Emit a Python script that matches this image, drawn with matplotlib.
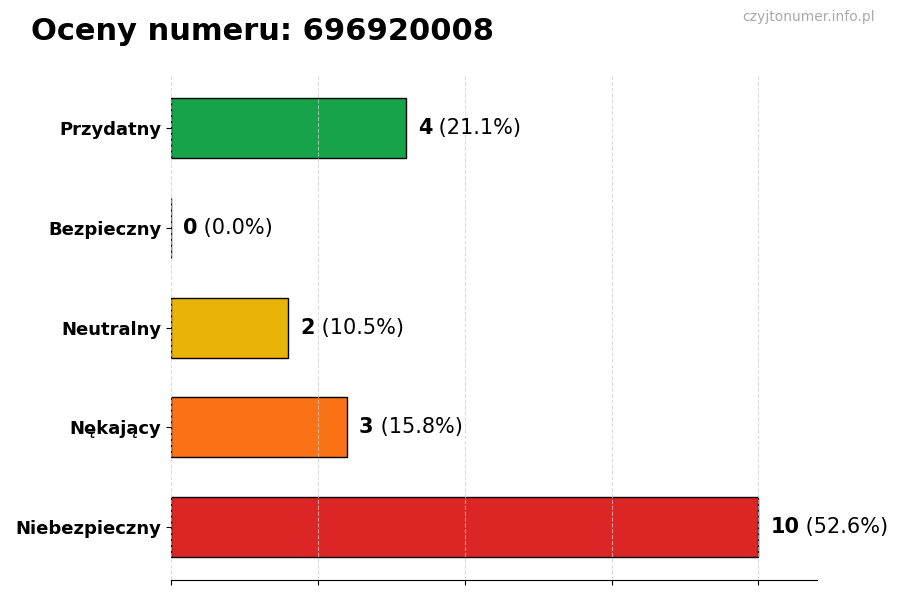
import matplotlib
matplotlib.use("Agg")
import matplotlib.pyplot as plt

categories = ["Przydatny", "Bezpieczny", "Neutralny", "Nękający", "Niebezpieczny"]
counts = [4, 0, 2, 3, 10]
percents = [21.1, 0.0, 10.5, 15.8, 52.6]
colors = ["#16a34a", "#9ca3af", "#eab308", "#f97316", "#dc2626"]

fig = plt.figure(figsize=(9, 6), dpi=100)
ax = fig.add_axes([0.19, 0.033, 0.718, 0.842])

ypos = list(range(len(categories)))
ax.barh(ypos, counts, height=0.6, color=colors, edgecolor="black", linewidth=1, zorder=2)
ax.set_yticks(ypos)
ax.set_yticklabels(categories, fontsize=13, fontweight="bold")
ax.invert_yaxis()
ax.set_xlim(0, 11)
ax.set_xticks([0, 2.5, 5, 7.5, 10])
ax.set_xticklabels([])
ax.grid(axis="x", linestyle="--", color="#cccccc", alpha=0.7, zorder=3)
ax.set_axisbelow(False)
for s in ["top", "right", "left"]:
    ax.spines[s].set_visible(False)

for y, c, p in zip(ypos, counts, percents):
    t = ax.annotate(f"{c}", xy=(c, y), xytext=(8.5, 0), textcoords="offset points",
                    va="center", ha="left", fontsize=15, fontweight="bold")
    ax.annotate(f" ({p:.1f}%)", xycoords=t, xy=(1, 0.5), va="center", ha="left", fontsize=15)

fig.text(0.034, 0.948, "Oceny numeru: 696920008", fontsize=22, fontweight="bold", va="center", ha="left")
fig.text(0.972, 0.971, "czyjtonumer.info.pl", fontsize=10, color="#aaaaaa", va="center", ha="right")

fig.savefig("out.png", dpi=100)
